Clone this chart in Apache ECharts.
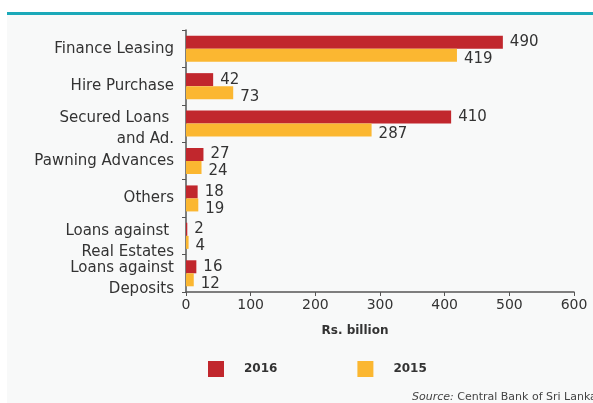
<!DOCTYPE html>
<html>
<head>
<meta charset="utf-8">
<script src="https://cdn.jsdelivr.net/npm/echarts@6/dist/echarts.min.js"></script>
<style>
  html, body { margin: 0; padding: 0; background: #ffffff; }
  #chart { width: 593px; height: 403px; }
</style>
</head>
<body>
<div id="chart"></div>
<script>
// categories, top to bottom
var categories = [
    "Finance Leasing",
    "Hire Purchase",
    "Secured Loans \nand Ad.",
    "Pawning Advances",
    "Others",
    "Loans against \nReal Estates",
    "Loans against\nDeposits"
];
var values2016 = [490, 42, 410, 27, 18, 2, 16];
var values2015 = [419, 73, 287, 24, 19, 4, 12];
var xTicks = [0, 100, 200, 300, 400, 500, 600];

var red = "#c1272d";
var yellow = "#fbb731";
var fontName = "'DejaVu Sans', sans-serif";

var chart = echarts.init(document.getElementById("chart"));

var labelStyle = {
    show: true,
    position: "right",
    distance: 7,
    fontFamily: fontName,
    fontSize: 15,
    color: "#333333"
};

chart.setOption({
    backgroundColor: "#ffffff",
    animation: false,
    textStyle: { fontFamily: fontName },
    graphic: [
        { type: "rect", z: -10, shape: { x: 7, y: 14, width: 586, height: 389 }, style: { fill: "#f8f9f9" } },
        { type: "rect", shape: { x: 7, y: 12, width: 586, height: 3 }, style: { fill: "#1ba9b9" } },
        {
            type: "text", x: 355, y: 331,
            style: {
                text: "Rs. billion", fontFamily: fontName, fontSize: 12, fontWeight: "bold",
                fill: "#333333", align: "center", verticalAlign: "middle"
            }
        },
        {
            type: "text", x: 412, y: 397,
            style: {
                text: "{i|Source:} Central Bank of Sri Lanka",
                fontFamily: fontName, fontSize: 11, fill: "#444444", verticalAlign: "middle",
                rich: { i: { fontStyle: "italic", fontFamily: fontName, fontSize: 11, color: "#444444" } }
            }
        }
    ],
    grid: { left: 186, right: 19, top: 30, bottom: 111, containLabel: false },
    legend: {
        data: ["2016", "2015"],
        left: 203,
        top: 356,
        icon: "rect",
        itemWidth: 16,
        itemHeight: 16,
        itemGap: 80,
        textStyle: { fontFamily: fontName, fontSize: 12, fontWeight: "bold", color: "#333333", padding: [0, 0, 0, 15] }
    },
    xAxis: {
        type: "value",
        min: xTicks[0],
        max: xTicks[xTicks.length - 1],
        interval: xTicks[1] - xTicks[0],
        axisLine: { show: true, lineStyle: { color: "#555555", width: 1.5 } },
        axisTick: { show: true, length: 4, lineStyle: { color: "#555555" } },
        axisLabel: { fontFamily: fontName, fontSize: 14, color: "#333333", margin: 6 },
        splitLine: { show: false }
    },
    yAxis: {
        type: "category",
        data: categories,
        inverse: true,
        axisLine: { show: true, lineStyle: { color: "#555555", width: 1.5 } },
        axisTick: { show: true, length: 4, lineStyle: { color: "#555555" } },
        axisLabel: {
            interval: 0, fontFamily: fontName, fontSize: 15, color: "#333333", margin: 12, lineHeight: 21,
            // two-line labels sit a little lower in the original
            formatter: function (v) {
                return v.indexOf("\n") >= 0 ? "{s| }\n" + v : v;
            },
            rich: { s: { fontSize: 2, lineHeight: 11 } }
        }
    },
    series: [
        {
            name: "2016",
            type: "bar",
            data: values2016,
            barWidth: 13,
            barGap: "0%",
            itemStyle: { color: red },
            label: labelStyle
        },
        {
            name: "2015",
            type: "bar",
            data: values2015,
            barWidth: 13,
            itemStyle: { color: yellow },
            label: Object.assign({}, labelStyle, { offset: [0, 4] })
        }
    ]
});
</script>
</body>
</html>
